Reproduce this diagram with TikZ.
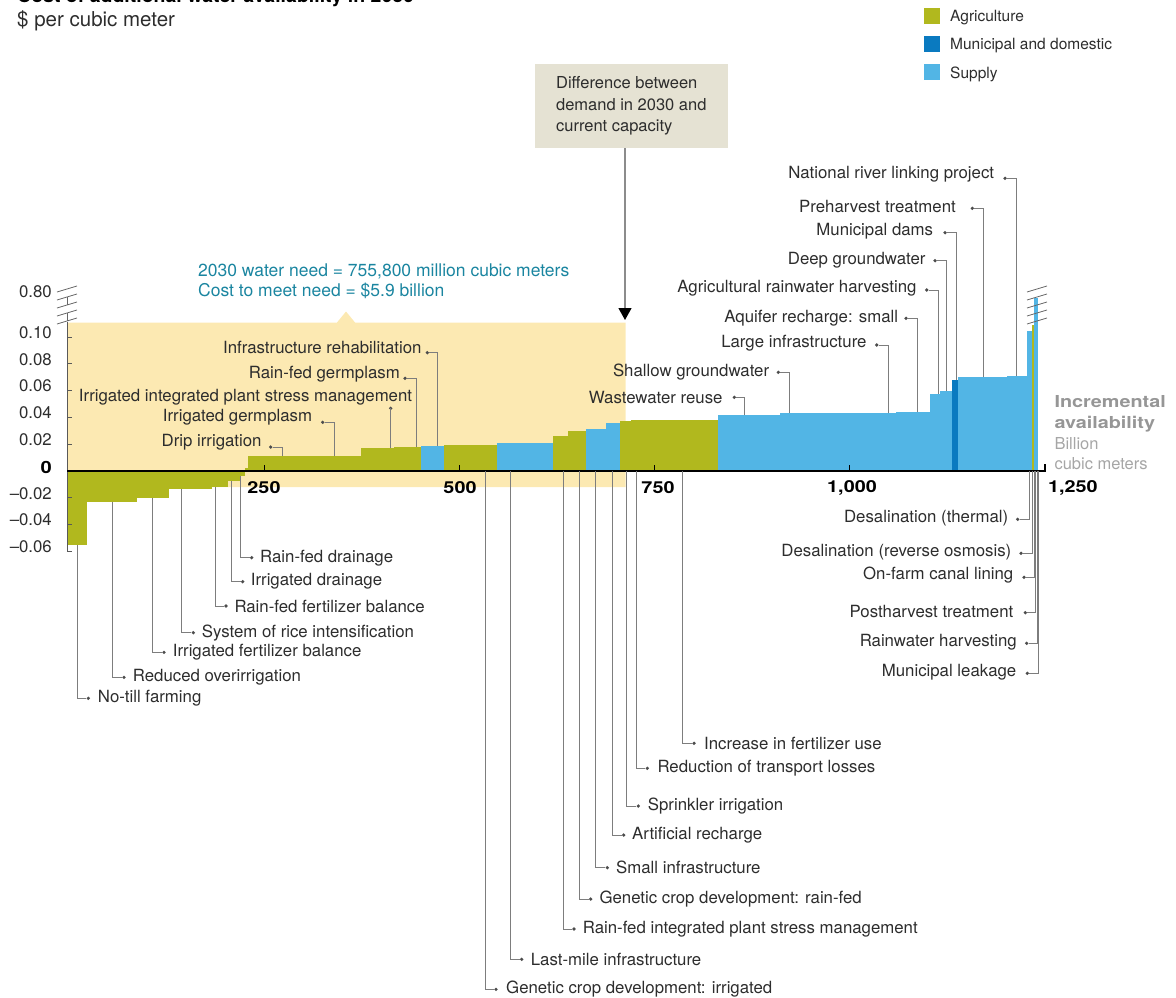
\documentclass[tikz,border=0pt]{standalone}
\usepackage{fontspec}
\setmainfont{TeX Gyre Heros}
\usetikzlibrary{arrows.meta}
\pgfdeclarelayer{bandlayer}
\pgfdeclarelayer{barlayer}
\pgfsetlayers{bandlayer,barlayer,main}
\definecolor{agri}{RGB}{177,184,30}
\definecolor{muni}{RGB}{10,122,192}
\definecolor{supply}{RGB}{82,181,229}
\definecolor{band}{RGB}{252,233,178}
\definecolor{callfill}{RGB}{229,226,211}
\definecolor{needcol}{RGB}{26,133,160}
\definecolor{ink}{RGB}{45,45,45}
\definecolor{leadcol}{RGB}{125,125,125}
\definecolor{unitcol}{RGB}{150,150,150}
\newcommand{\heavy}[1]{\scalebox{1.2}[1]{\bfseries #1}}
\tikzstyle{lbl}=[inner sep=0pt, text=ink, font=\fontsize{16.8}{20}\selectfont]
\tikzstyle{ylab}=[lbl, anchor=east]
\tikzstyle{xlab}=[inner sep=0pt, text=black, font=\fontsize{16.5}{19.8}\selectfont]
\tikzstyle{dot}=[circle, fill=ink!85, inner sep=0pt, minimum size=3.6pt]
\tikzstyle{leader}=[draw=leadcol, line width=0.9pt]
\tikzstyle{axisline}=[draw=black!65, line width=0.8pt]
\tikzstyle{breakmark}=[draw=black!60, line width=0.8pt]
\tikzstyle{legbox}=[inner sep=0pt, minimum size=16pt]
\tikzstyle{callbox}=[fill=callfill, inner xsep=21pt, minimum width=191pt, minimum height=84pt, align=left, text=ink, font=\fontsize{16.5}{21.7}\selectfont]

\begin{document}
\begin{tikzpicture}[x=1pt,y=-1pt]
	\useasboundingbox (0,0) rectangle (1176,998);
	% heading
	\node [anchor=base west, inner sep=0pt, font=\fontsize{19.5}{22}\selectfont\bfseries] (title) at (17,2.5) {Cost of additional water availability in 2030};
	\node [anchor=west, inner sep=0pt, text=ink, font=\fontsize{20.5}{24}\selectfont] (unit) at (17,20.5) {\$ per cubic meter};
	% legend
	\foreach \n/\y/\col/\txt in {1/16/agri/Agriculture, 2/44/muni/Municipal and domestic, 3/72/supply/Supply} {
		\node [legbox, fill=\col] (k\n) at (932,\y) {};
		\node [lbl, anchor=west, font=\fontsize{15.5}{18}\selectfont] (kl\n) at (950,\y+2) {\txt};
	}
	% shaded gap
	\begin{pgfonlayer}{bandlayer}
		\fill [band] (67,322.5) -- (337,322.5) -- (346,311.5) -- (355,322.5) -- (625.5,322.5) -- (625.5,487) -- (67,487) -- cycle;
	\end{pgfonlayer}
	% bars
	\begin{pgfonlayer}{barlayer}
		\foreach \xa/\xb/\yt/\col in {67/87/545/agri, 87/136.7/501.7/agri, 136.7/169/497.7/agri, 169/212.3/489.3/agri,
			212.3/228.3/487.3/agri, 228.3/240/480.7/agri, 240/245/475.7/agri,
			245/248.3/468/agri, 248.3/361/456/agri, 361/394.3/447.7/agri, 394.3/420.7/446.7/agri,
			420.7/444/445.7/supply, 444/496.7/445/agri, 496.7/552.7/442.7/supply, 552.7/568.3/436/agri,
			568.3/585.7/431/agri, 585.7/606/428.7/supply, 606/620/422.7/supply, 620/631/420.7/agri,
			631/717.7/419.7/agri, 717.7/780/414.7/supply, 780/896/413/supply, 896/930/412.3/supply,
			930/940/394/supply, 940/952.3/391/supply, 952.3/958/380/muni, 958/1006.7/377.3/supply,
			1006.7/1026.7/376/supply, 1026.7/1031.7/330.7/supply, 1031.7/1034/325/agri, 1034/1038/298/supply}
			\fill [\col] (\xa,471) rectangle (\xb,\yt);
	\end{pgfonlayer}
	% value axis
	\draw [axisline] (67,322) -- (67,551.4);
	\foreach \v/\y [count=\i] in {0.10/337, 0.08/363.8, 0.06/390.6, 0.04/417.4, 0.02/444.2, –0.02/497.8, –0.04/524.6, –0.06/551.4} {
		\draw [axisline] (67,\y) -- (72,\y);
		\node [ylab] (y\i) at (52,\y-4.5) {\v};
	}
	\node [ylab] (ytop) at (52,291.7) {0.80};
	\node [ylab, text=black] (yzero) at (52,467) {\heavy{0}};
	\foreach \y in {289,297,305,313,321}
		\draw [breakmark] (57,\y+3) -- (77,\y-3);
	\foreach \y in {297,313}
		\draw [breakmark] (67,\y) -- (67,\y+8);
	\foreach \y in {289,297,305,313,321}
		\draw [breakmark] (1027,\y+3) -- (1047,\y-3);
	% availability axis
	\draw [line width=1.5pt] (67,471) -- (1045,471) -- (1045,464);
	\foreach \x/\t in {264.2/250, 459.4/500, 654.6/750, 849.8/1000} {
		\draw [line width=1pt] (\x,471) -- (\x,465);
	}
	\node [xlab] (x1) at (264,488) {\heavy{250}};
	\node [xlab] (x2) at (460,488) {\heavy{500}};
	\node [xlab] (x3) at (658,488) {\heavy{750}};
	\node [xlab] (x4) at (852,488) {\heavy{1,000}};
	\node [xlab, anchor=west] (x5) at (1048,488) {\heavy{1,250}};
	\node [anchor=west, inner sep=0pt, align=left, text=black!35, font=\fontsize{16.5}{20.8}\selectfont] (axname) at (1054.3,432.8)
		{\textcolor{unitcol}{\heavy{Incremental}}\\\textcolor{unitcol}{\heavy{availability}}\\Billion\\cubic meters};
	% callout
	\node [callbox] (box) at (631.3,105.8) {Difference between\\demand in 2030 and\\current capacity};
	\coordinate (tip) at (625,320);
	\draw [draw=black!45, line width=1.2pt, -{Triangle[black, length=12pt, width=13pt]}] (box.south -| tip) -- (tip);
	\node [anchor=west, inner sep=0pt, align=left, text=needcol, font=\fontsize{17.5}{20}\selectfont] (need) at (198,281)
		{2030 water need = 755,800 million cubic meters\\Cost to meet need = \$5.9 billion};
	% labels left of their dot
	\foreach \n/\vx/\vy/\dx/\dy/\tx/\ty/\txt in {
		a1/282.7/456/270.7/447/261.7/442.3/Drip irrigation,
		a2/334.3/456/322.7/422.3/312.3/417.3/Irrigated germplasm,
		a3/390.7/447.7/390.7/408.3/412.3/397.3/Irrigated integrated plant stress management,
		a4/416/446.7/405/378.3/400/374/Rain-fed germplasm,
		a5/437.3/445.7/427.3/352.7/421.7/347.3/Infrastructure rehabilitation,
		a6/744.3/414.7/734.3/397.3/722.7/397.3/Wastewater reuse,
		a7/789.3/413/778.3/372.3/769.3/371.7/Shallow groundwater,
		a8/888.3/413.3/876.7/345/866.7/343/Large infrastructure,
		a9/917.7/412.3/906/318.3/898.3/318/Aquifer recharge: small,
		a10/938.7/394/926.7/290/916.7/288.5/Agricultural rainwater harvesting,
		a11/946.7/391/935/260.7/925.7/260/Deep groundwater,
		a12/956/380/945/232.7/933.3/231/Municipal dams,
		a13/983.3/377.3/972.3/208.3/956/207/Preharvest treatment,
		a14/1016/376/1005/178.3/994.3/174/National river linking project,
		a15/1029/471/1017.7/519.3/1008.5/518.5/Desalination (thermal),
		a16/1032.3/471/1021/553.3/1011.5/552/Desalination (reverse osmosis),
		a17/1034.3/471/1024/577.3/1013.5/575.5/On-farm canal lining,
		a18/1035.7/471/1025.3/612.7/1013.5/611.5/Postharvest treatment,
		a19/1037/471/1026.7/643.3/1017/642/Rainwater harvesting,
		a20/1038.7/471/1027.3/673.3/1016.5/672.5/Municipal leakage} {
		\coordinate (v\n) at (\vx,\vy);
		\node [dot] (d\n) at (\dx,\dy) {};
		\node [lbl, anchor=east] (l\n) at (\tx,\ty) {\txt};
		\draw [leader] (v\n) |- (d\n);
	}
	% labels right of their dot
	\foreach \n/\vx/\vy/\dx/\dy/\tx/\txt in {
		b1/77.7/545/88.3/698.3/97.7/No-till farming,
		b2/112.7/501.7/124/677.3/132.7/Reduced overirrigation,
		b3/152.7/497.7/164/652.3/172.7/Irrigated fertilizer balance,
		b4/181.7/489.3/193.3/632.7/201.7/System of rice intensification,
		b5/215/487.3/226/606/234.3/Rain-fed fertilizer balance,
		b6/231.7/480.7/242.7/581.7/250.7/Irrigated drainage,
		b7/240.7/475.7/251.7/557.7/260/Rain-fed drainage,
		b8/485.3/471/496/989.3/506/Genetic crop development: irrigated,
		b9/510.3/471/521.7/959.3/530.7/Last-mile infrastructure,
		b10/563/471/574/929/582.7/Rain-fed integrated plant stress management,
		b11/579.3/471/590.7/899/599.3/Genetic crop development: rain-fed,
		b12/595.7/471/607.3/867.7/616/Small infrastructure,
		b13/612.7/471/623.7/835/632/Artificial recharge,
		b14/626.7/471/638.3/806/647.7/Sprinkler irrigation,
		b15/636/471/647.3/768.3/657.3/Reduction of transport losses,
		b16/682.3/471/694/743.3/704/Increase in fertilizer use} {
		\coordinate (v\n) at (\vx,\vy);
		\node [dot] (d\n) at (\dx,\dy) {};
		\node [lbl, anchor=west] (l\n) at (\tx,\dy) {\txt};
		\draw [leader] (v\n) |- (d\n);
	}
\end{tikzpicture}
\end{document}
